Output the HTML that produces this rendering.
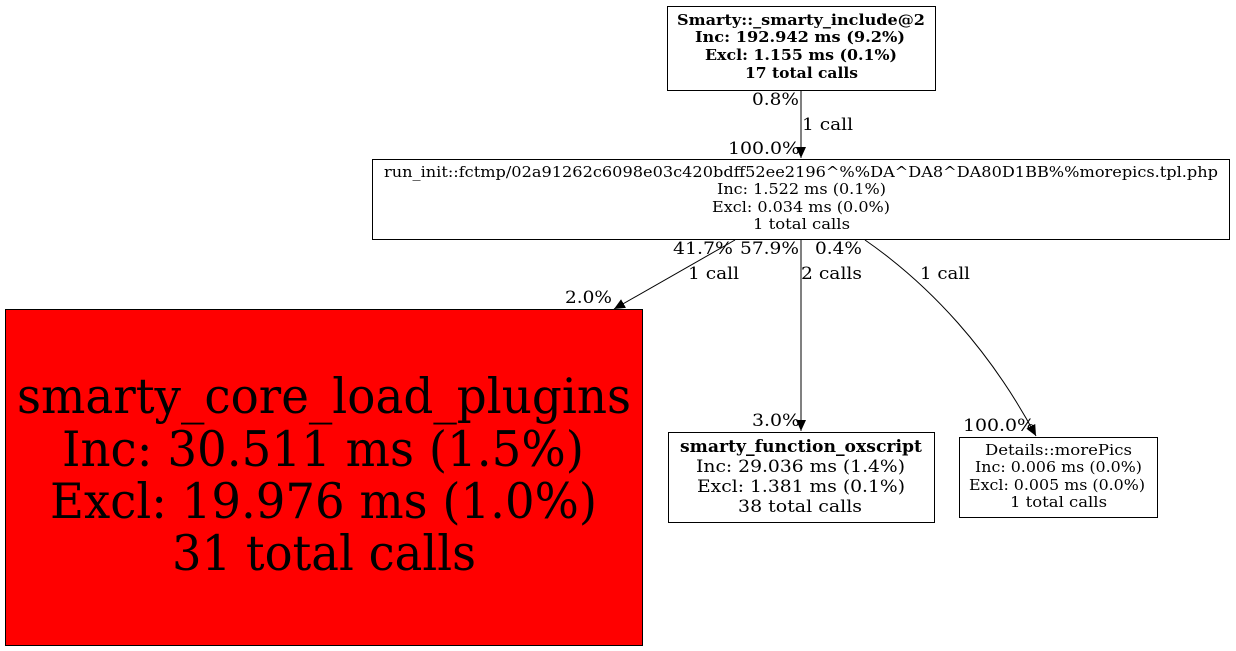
<!DOCTYPE html>
<html><head><meta charset="utf-8"><style>
html,body{margin:0;padding:0;background:#fff;}
svg{display:block;}
text{font-family:"DejaVu Serif","Liberation Serif",serif;fill:#000;}
</style></head><body>
<svg width="1236" height="651" viewBox="0 0 1236 651" xmlns="http://www.w3.org/2000/svg">
<defs><marker id="a" markerWidth="12" markerHeight="12" refX="11" refY="5" orient="auto" markerUnits="userSpaceOnUse"><path d="M0,0 L11,5 L0,10 z" fill="#000"/></marker></defs>
<rect x="667.5" y="6.5" width="268" height="84" fill="#fff" stroke="#000"/>
<g font-size="15" font-weight="bold">
<text x="677" y="25" textLength="248" lengthAdjust="spacingAndGlyphs">Smarty::_smarty_include@2</text>
<text x="695" y="42" textLength="210" lengthAdjust="spacingAndGlyphs">Inc: 192.942 ms (9.2%)</text>
<text x="705" y="60" textLength="192" lengthAdjust="spacingAndGlyphs">Excl: 1.155 ms (0.1%)</text>
<text x="745" y="78" textLength="113" lengthAdjust="spacingAndGlyphs">17 total calls</text>
</g>
<line x1="801" y1="91" x2="801" y2="158" stroke="#000" marker-end="url(#a)"/>
<g font-size="17">
<text x="752" y="105" textLength="47" lengthAdjust="spacingAndGlyphs">0.8%</text>
<text x="802" y="130" textLength="51" lengthAdjust="spacingAndGlyphs">1 call</text>
<text x="728" y="154" textLength="72" lengthAdjust="spacingAndGlyphs">100.0%</text>
</g>
<rect x="372.5" y="159.5" width="857" height="80" fill="#fff" stroke="#000"/>
<g font-size="15" font-weight="300">
<text x="384" y="177" textLength="834" lengthAdjust="spacingAndGlyphs">run_init::fctmp/02a91262c6098e03c420bdff52ee2196^%%DA^DA8^DA80D1BB%%morepics.tpl.php</text>
<text x="717" y="194" textLength="169" lengthAdjust="spacingAndGlyphs">Inc: 1.522 ms (0.1%)</text>
<text x="712" y="212" textLength="178" lengthAdjust="spacingAndGlyphs">Excl: 0.034 ms (0.0%)</text>
<text x="753" y="229" textLength="97" lengthAdjust="spacingAndGlyphs">1 total calls</text>
</g>
<line x1="735" y1="240" x2="614" y2="309" stroke="#000" marker-end="url(#a)"/>
<line x1="801" y1="240" x2="801" y2="431" stroke="#000" marker-end="url(#a)"/>
<path d="M865,240 C930,285 990,350 1036,436" fill="none" stroke="#000" marker-end="url(#a)"/>
<g font-size="17">
<text x="673" y="254" textLength="60" lengthAdjust="spacingAndGlyphs">41.7%</text>
<text x="740" y="254" textLength="59" lengthAdjust="spacingAndGlyphs">57.9%</text>
<text x="815" y="254" textLength="47" lengthAdjust="spacingAndGlyphs">0.4%</text>
<text x="688" y="279" textLength="51" lengthAdjust="spacingAndGlyphs">1 call</text>
<text x="801" y="279" textLength="61" lengthAdjust="spacingAndGlyphs">2 calls</text>
<text x="920" y="279" textLength="50" lengthAdjust="spacingAndGlyphs">1 call</text>
<text x="565" y="303" textLength="47" lengthAdjust="spacingAndGlyphs">2.0%</text>
<text x="752" y="426" textLength="48" lengthAdjust="spacingAndGlyphs">3.0%</text>
<text x="963" y="431" textLength="72" lengthAdjust="spacingAndGlyphs">100.0%</text>
</g>
<rect x="5.5" y="309.5" width="637" height="336" fill="#f00" stroke="#000"/>
<g font-size="49">
<text x="17" y="413" textLength="614" lengthAdjust="spacingAndGlyphs">smarty_core_load_plugins</text>
<text x="62" y="466" textLength="522" lengthAdjust="spacingAndGlyphs">Inc: 30.511 ms (1.5%)</text>
<text x="50" y="518" textLength="547" lengthAdjust="spacingAndGlyphs">Excl: 19.976 ms (1.0%)</text>
<text x="172" y="570" textLength="304" lengthAdjust="spacingAndGlyphs">31 total calls</text>
</g>
<rect x="668.5" y="432.5" width="266" height="90" fill="#fff" stroke="#000"/>
<g font-size="17">
<text x="680" y="452" font-weight="bold" textLength="242" lengthAdjust="spacingAndGlyphs">smarty_function_oxscript</text>
<text x="696" y="472" textLength="209" lengthAdjust="spacingAndGlyphs">Inc: 29.036 ms (1.4%)</text>
<text x="697" y="492" textLength="208" lengthAdjust="spacingAndGlyphs">Excl: 1.381 ms (0.1%)</text>
<text x="738" y="512" textLength="124" lengthAdjust="spacingAndGlyphs">38 total calls</text>
</g>
<rect x="959.5" y="437.5" width="198" height="80" fill="#fff" stroke="#000"/>
<g font-size="15" font-weight="300">
<text x="985" y="455" textLength="147" lengthAdjust="spacingAndGlyphs">Details::morePics</text>
<text x="975" y="472" textLength="167" lengthAdjust="spacingAndGlyphs">Inc: 0.006 ms (0.0%)</text>
<text x="969" y="490" textLength="176" lengthAdjust="spacingAndGlyphs">Excl: 0.005 ms (0.0%)</text>
<text x="1010" y="507" textLength="97" lengthAdjust="spacingAndGlyphs">1 total calls</text>
</g>
</svg>
</body></html>
